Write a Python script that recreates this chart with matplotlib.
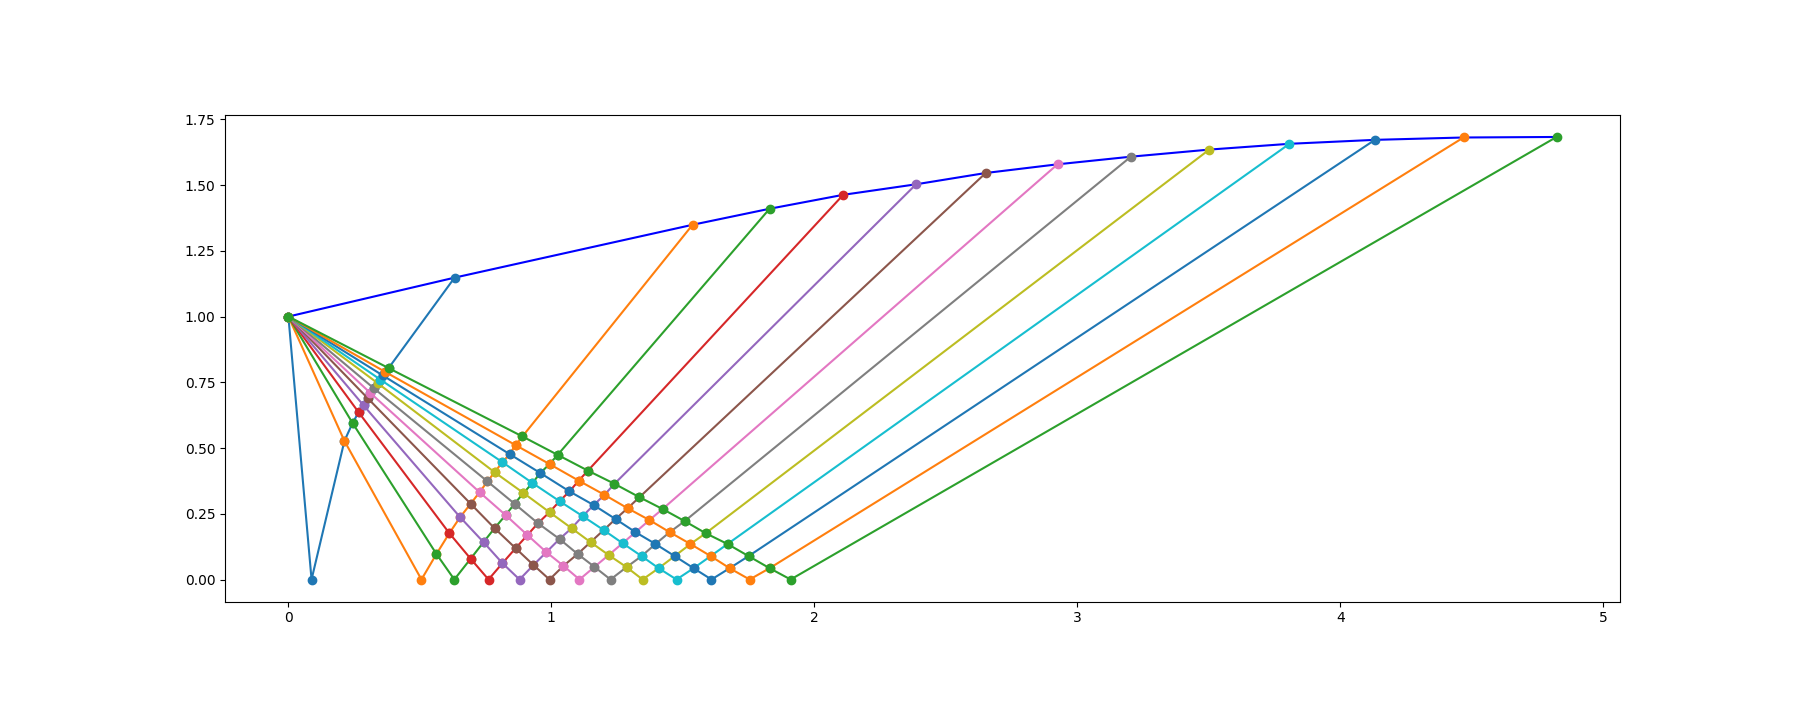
import matplotlib
matplotlib.use('Agg')
import matplotlib.pyplot as plt

# nozzle corner (throat lip)
corner_x = 0.0
corner_y = 1.0

# wall points, one per characteristic
wall_x = [0.632, 1.537, 1.830, 2.110, 2.387, 2.652, 2.925, 3.204, 3.502, 3.807, 4.132, 4.469, 4.823]
wall_y = [1.148, 1.349, 1.410, 1.463, 1.503, 1.546, 1.579, 1.608, 1.635, 1.657, 1.672, 1.681, 1.683]

# grid points: row i = points on C- line i (crossing C+ lines 1..i, last one on the axis)
grid_x = [
    [0.088],
    [0.213, 0.506],
    [0.244, 0.563, 0.631],
    [0.267, 0.612, 0.693, 0.761],
    [0.286, 0.653, 0.742, 0.814, 0.879],
    [0.301, 0.693, 0.784, 0.864, 0.932, 0.993],
    [0.312, 0.727, 0.826, 0.909, 0.981, 1.046, 1.107],
    [0.324, 0.757, 0.860, 0.949, 1.031, 1.100, 1.164, 1.225],
    [0.339, 0.784, 0.894, 0.993, 1.077, 1.149, 1.218, 1.286, 1.347],
    [0.350, 0.814, 0.928, 1.031, 1.119, 1.199, 1.271, 1.343, 1.408, 1.476],
    [0.359, 0.841, 0.958, 1.069, 1.161, 1.244, 1.320, 1.396, 1.469, 1.541, 1.609],
    [0.369, 0.864, 0.993, 1.104, 1.202, 1.290, 1.373, 1.450, 1.529, 1.606, 1.678, 1.754],
    [0.381, 0.890, 1.024, 1.139, 1.240, 1.335, 1.423, 1.507, 1.587, 1.670, 1.750, 1.830, 1.910],
]
grid_y = [
    [0.0],
    [0.527, 0.0],
    [0.595, 0.097, 0.0],
    [0.636, 0.176, 0.079, 0.0],
    [0.662, 0.237, 0.142, 0.062, 0.0],
    [0.690, 0.288, 0.195, 0.119, 0.055, 0.0],
    [0.709, 0.332, 0.245, 0.169, 0.104, 0.052, 0.0],
    [0.728, 0.373, 0.288, 0.214, 0.154, 0.097, 0.048, 0.0],
    [0.747, 0.408, 0.329, 0.256, 0.195, 0.142, 0.093, 0.047, 0.0],
    [0.760, 0.446, 0.367, 0.298, 0.241, 0.188, 0.138, 0.089, 0.043, 0.0],
    [0.776, 0.477, 0.405, 0.335, 0.283, 0.230, 0.180, 0.135, 0.089, 0.043, 0.0],
    [0.789, 0.511, 0.439, 0.376, 0.322, 0.271, 0.226, 0.180, 0.135, 0.089, 0.043, 0.0],
    [0.804, 0.544, 0.474, 0.414, 0.364, 0.313, 0.268, 0.222, 0.176, 0.135, 0.089, 0.043, 0.0],
]

n = len(wall_x)

fig = plt.figure(figsize=(18, 7.2), dpi=100)
ax = fig.add_axes([0.125, 0.1644, 0.775, 0.6761])

# wall contour
ax.plot([corner_x] + wall_x, [corner_y] + wall_y, 'b-')

# each characteristic: C- from the corner down to the axis, then C+ up to the wall
for i in range(n):
    xs = [corner_x] + grid_x[i]
    ys = [corner_y] + grid_y[i]
    for k in range(i + 1, n):
        xs.append(grid_x[k][i])
        ys.append(grid_y[k][i])
    xs.append(wall_x[i])
    ys.append(wall_y[i])
    ax.plot(xs, ys, 'o-')

fig.savefig('out.png')
